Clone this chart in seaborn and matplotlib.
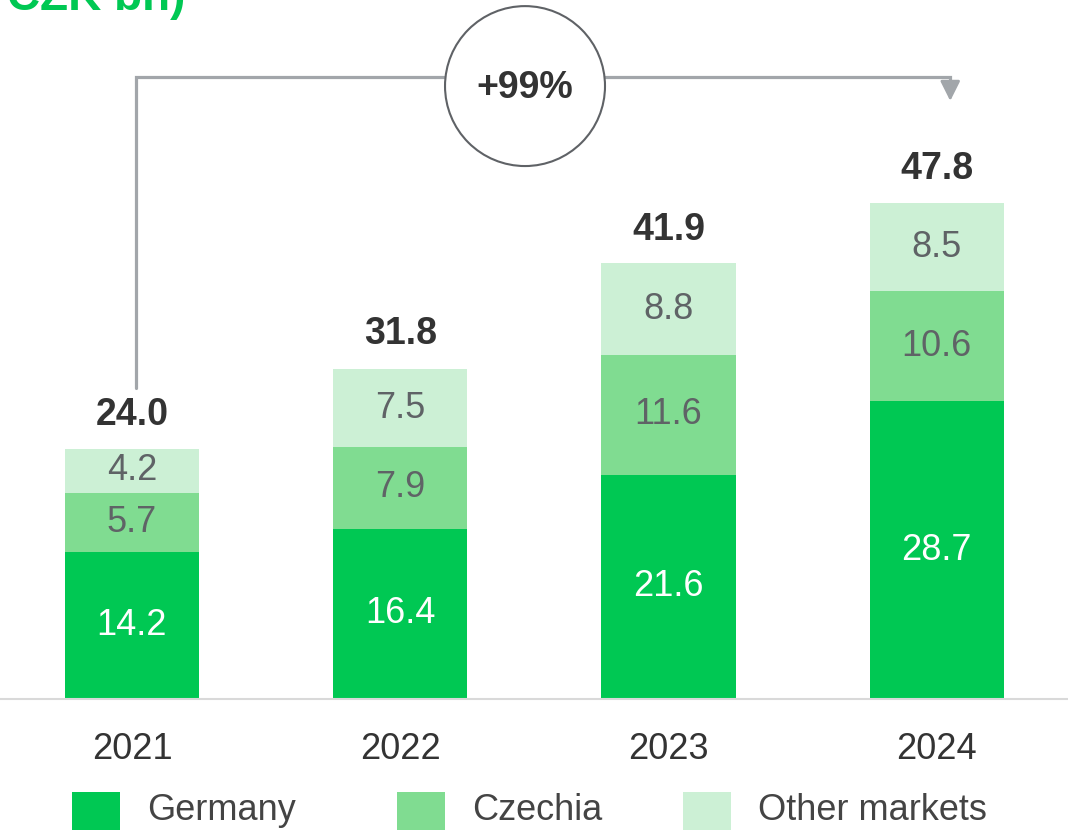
import pandas as pd
import seaborn as sns
import matplotlib.pyplot as plt
from matplotlib.patches import Ellipse, Rectangle

# dados do gráfico (CZK bn)
anos = ['2021', '2022', '2023', '2024']
germany = [14.2, 16.4, 21.6, 28.7]
czechia = [5.7, 7.9, 11.6, 10.6]
other = [4.2, 7.5, 8.8, 8.5]
totais = [24.0, 31.8, 41.9, 47.8]
crescimento = '+99%'
series = ['Germany', 'Czechia', 'Other markets']
cores = ['#00C853', '#80DC91', '#CCF0D5']

df = pd.DataFrame({'Ano': anos, 'Germany': germany, 'Czechia': czechia, 'Other': other})
df['Germany+Czechia'] = df['Germany'] + df['Czechia']
df['Total'] = df['Germany+Czechia'] + df['Other']

sns.set_style('white')
plt.rcParams['font.family'] = ['Liberation Sans', 'DejaVu Sans']

fig = plt.figure(figsize=(10.68, 8.31), dpi=100)
ax = fig.add_axes([0, 132 / 831, 1, 699 / 831])

# barras empilhadas: desenha do total para baixo
sns.barplot(data=df, x='Ano', y='Total', color=cores[2], width=0.5, saturation=1, ax=ax)
sns.barplot(data=df, x='Ano', y='Germany+Czechia', color=cores[1], width=0.5, saturation=1, ax=ax)
sns.barplot(data=df, x='Ano', y='Germany', color=cores[0], width=0.5, saturation=1, ax=ax)
for p in ax.patches:
    p.set_edgecolor('none')

ax.set_xlim(-0.492, 3.489)
ax.set_ylim(0, 67.4)

# rótulos dos segmentos
for i in range(len(anos)):
    ax.text(i, germany[i] / 2, f'{germany[i]:.1f}', ha='center', va='center',
            fontsize=26, color='white')
    ax.text(i, germany[i] + czechia[i] / 2, f'{czechia[i]:.1f}', ha='center', va='center',
            fontsize=26, color='#5f6366')
    ax.text(i, germany[i] + czechia[i] + other[i] / 2, f'{other[i]:.1f}', ha='center',
            va='center', fontsize=26, color='#5f6366')
    ax.annotate(f'{totais[i]:.1f}', (i, totais[i]), xytext=(0, 25), textcoords='offset points',
                ha='center', va='center', fontsize=27, fontweight='bold', color='#333333')

# seta de crescimento
cor_linha = '#A2A6AA'
ax.plot([0.015, 0.015, 3.05, 3.05], [30.0, 60.0, 60.0, 58.5], color=cor_linha, lw=2.3,
        solid_joinstyle='miter', clip_on=False)
ax.annotate('', xy=(3.05, 57.4), xytext=(3.05, 59.2),
            arrowprops=dict(arrowstyle='-|>', color=cor_linha, lw=2, mutation_scale=30))
ax.add_patch(Ellipse((1.465, 59.1), 160 / 268.3, 160 / 10.375, facecolor='white',
                     edgecolor='#5f6266', lw=1.5, zorder=5, clip_on=False))
ax.text(1.465, 58.9, crescimento, ha='center', va='center', fontsize=27,
        fontweight='bold', color='#333333', zorder=6)

ax.set_xlabel('')
ax.set_ylabel('')
ax.set_yticks([])
ax.tick_params(axis='x', length=0, pad=24, labelsize=26, labelcolor='#333333')
for s in ['top', 'left', 'right']:
    ax.spines[s].set_visible(False)
ax.spines['bottom'].set_color('#d9d9d9')
ax.spines['bottom'].set_linewidth(1.5)

# título cortado no topo
fig.text(185 / 1068, 1 - 10 / 831, 'CZK bn)', ha='right', va='baseline', fontsize=33,
         fontweight='bold', color='#00C853')

# legenda
leg_x = [72, 397, 683]
for x, nome, cor in zip(leg_x, series, cores):
    fig.patches.append(Rectangle((x / 1068, 1 / 831), 48 / 1068, 38 / 831, facecolor=cor,
                                 edgecolor='none', transform=fig.transFigure))
    fig.text((x + 75) / 1068, 21 / 831, nome, ha='left', va='center', fontsize=26,
             color='#444444')

fig.savefig('out.png', dpi=100)
